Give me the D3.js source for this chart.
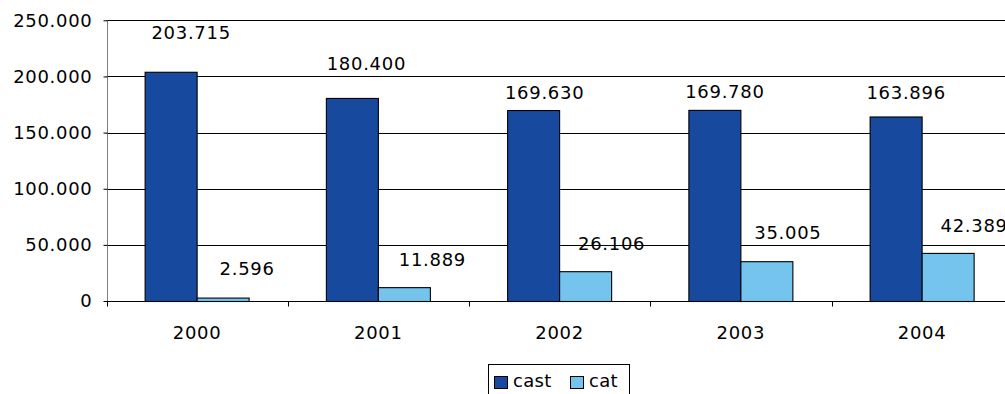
<!DOCTYPE html>
<html>
<head>
<meta charset="utf-8">
<script src="https://cdn.jsdelivr.net/npm/d3@7/dist/d3.min.js"></script>
<style>
  html, body { margin: 0; padding: 0; background: #fff; overflow: hidden; }
  svg { display: block; font-family: Verdana, "DejaVu Sans", sans-serif; }
</style>
</head>
<body>
<svg id="chart" width="1005" height="394"></svg>
<script>
// Chart data
const years = ["2000", "2001", "2002", "2003", "2004"];
const seriesNames = ["cast", "cat"];
const castValues = [203715, 180400, 169630, 169780, 163896];
const catValues = [2596, 11889, 26106, 35005, 42389];
const yTicks = [0, 50000, 100000, 150000, 200000, 250000];

// Hand-placed data label nudges (pixels from the top centre of each bar)
const castLabelNudge = [[20, -33], [14, -28], [11, -12], [10, -12], [10, -18]];
const catLabelNudge = [[24, -23], [28, -22], [26, -22], [21, -23], [26, -21]];

const colors = { cast: "#174A9E", cat: "#74C4EE" };
const fmt = v => d3.format(",")(v).replace(/,/g, ".");
const FONT_SIZE = 18;
const SPACING = 0.7;

const svg = d3.select("#chart");
const plot = { left: 106.5, right: 1012.75, top: 20.3, bottom: 301 };

const x0 = d3.scaleBand().domain(years).range([plot.left, plot.right]).padding(0);
const groupHalf = 52;
const x1 = d3.scaleBand().domain(seriesNames).range([-groupHalf, groupHalf]).padding(0);
const y = d3.scaleLinear().domain([0, 250000]).range([plot.bottom, plot.top]);

// Horizontal gridlines
svg.append("g")
  .selectAll("line")
  .data(yTicks)
  .join("line")
  .attr("x1", plot.left).attr("x2", 1005)
  .attr("y1", d => Math.round(y(d)) + 0.5).attr("y2", d => Math.round(y(d)) + 0.5)
  .attr("stroke", "#000").attr("stroke-width", 1);

// Value axis
const yAxis = svg.append("g")
  .attr("transform", `translate(${Math.round(plot.left) + 0.5},0)`)
  .call(d3.axisLeft(y).tickValues(yTicks).tickSize(4).tickPadding(11).tickFormat(fmt));
yAxis.select(".domain").attr("stroke", "#808080").attr("d", `M0,${y(250000)}V${y(0)}`);
yAxis.selectAll(".tick line").attr("stroke", "#000");
yAxis.selectAll(".tick text").attr("font-size", FONT_SIZE).attr("fill", "#000")
  .attr("letter-spacing", SPACING)
  .attr("font-family", "Verdana, 'DejaVu Sans', sans-serif");

// Category axis
const xAxis = svg.append("g")
  .attr("transform", `translate(0,${Math.round(y(0)) + 0.5})`);
xAxis.append("line")
  .attr("x1", plot.left).attr("x2", 1005)
  .attr("stroke", "#000");
const boundaries = years.map(d => x0(d)).concat([x0(years[years.length - 1]) + x0.bandwidth()]);
xAxis.selectAll("line.bound")
  .data(boundaries)
  .join("line")
  .attr("class", "bound")
  .attr("x1", d => Math.round(d) + 0.5).attr("x2", d => Math.round(d) + 0.5)
  .attr("y1", 0).attr("y2", 5)
  .attr("stroke", "#000");
xAxis.selectAll("text")
  .data(years)
  .join("text")
  .attr("x", d => x0(d) + x0.bandwidth() / 2)
  .attr("y", 37)
  .attr("text-anchor", "middle")
  .attr("font-size", FONT_SIZE)
  .attr("letter-spacing", SPACING)
  .text(d => d);

// Bars
const rows = years.map((yr, i) => ({ year: yr, cast: castValues[i], cat: catValues[i], i }));
const groups = svg.append("g").selectAll("g")
  .data(rows)
  .join("g")
  .attr("transform", d => `translate(${x0(d.year) + x0.bandwidth() / 2},0)`);

groups.selectAll("rect")
  .data(d => seriesNames.map(s => ({ key: s, value: d[s] })))
  .join("rect")
  .attr("x", d => x1(d.key))
  .attr("width", x1.bandwidth())
  .attr("y", d => y(d.value))
  .attr("height", d => y(0) - y(d.value) + 0.5)
  .attr("fill", d => colors[d.key])
  .attr("stroke", "#000")
  .attr("stroke-width", 1.1);

// Data labels
groups.selectAll("text")
  .data(d => seriesNames.map(s => ({
    key: s,
    value: d[s],
    nudge: (s === "cast" ? castLabelNudge : catLabelNudge)[d.i]
  })))
  .join("text")
  .attr("x", d => x1(d.key) + x1.bandwidth() / 2 + d.nudge[0])
  .attr("y", d => y(d.value) + d.nudge[1])
  .attr("text-anchor", "middle")
  .attr("font-size", FONT_SIZE)
  .attr("letter-spacing", SPACING)
  .attr("fill", "#000")
  .text(d => fmt(d.value));

// Legend
const legend = svg.append("g").attr("transform", "translate(488,364)");
legend.append("rect")
  .attr("x", 0.5).attr("y", 0.5)
  .attr("width", 141).attr("height", 40)
  .attr("fill", "#fff").attr("stroke", "#000");
const legendItems = [
  { key: "cast", sx: 6, tx: 25 },
  { key: "cat", sx: 82, tx: 101 }
];
const li = legend.selectAll("g.item")
  .data(legendItems)
  .join("g").attr("class", "item");
li.append("rect")
  .attr("x", d => d.sx + 0.5).attr("y", 12.5)
  .attr("width", 13).attr("height", 12)
  .attr("fill", d => colors[d.key]).attr("stroke", "#000");
li.append("text")
  .attr("x", d => d.tx).attr("y", 23)
  .attr("font-size", FONT_SIZE)
  .attr("letter-spacing", 0.3)
  .text(d => d.key);
</script>
</body>
</html>
